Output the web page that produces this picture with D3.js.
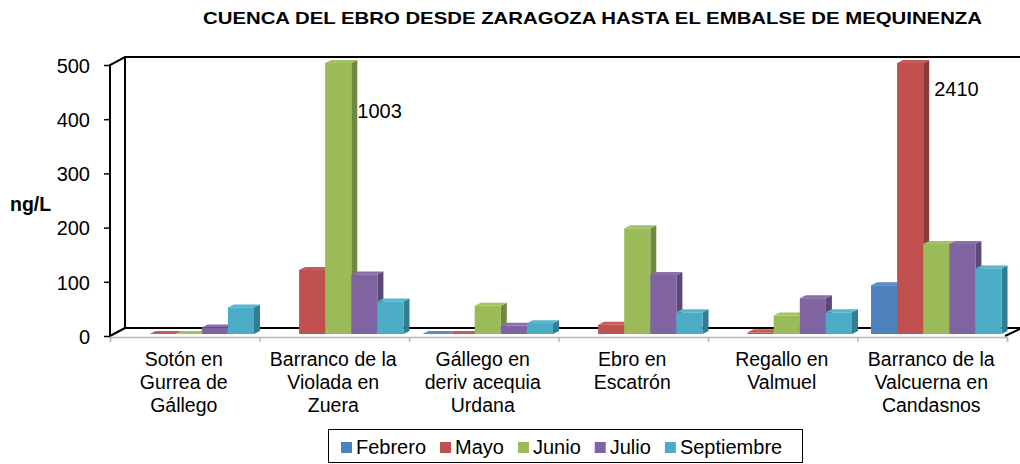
<!DOCTYPE html>
<html>
<head>
<meta charset="utf-8">
<script src="https://cdn.jsdelivr.net/npm/d3@7"></script>
<style>
  body { margin: 0; background: #fff; }
  text { font-family: "Liberation Sans", Arial, sans-serif; fill: #000; }
</style>
</head>
<body>
<div id="vis"></div>
<script>
// data
var categories = [
  ["Sotón en", "Gurrea de", "Gállego"],
  ["Barranco de la", "Violada en", "Zuera"],
  ["Gállego en", "deriv acequia", "Urdana"],
  ["Ebro en", "Escatrón"],
  ["Regallo en", "Valmuel"],
  ["Barranco de la", "Valcuerna en", "Candasnos"]
];
var seriesNames = ["Febrero", "Mayo", "Junio", "Julio", "Septiembre"];
var febrero    = [null, null, 0, null, null, 90];
var mayo       = [0, 118, 0, 17, 3, 2410];
var junio      = [0, 1003, 52, 195, 34, 166];
var julio      = [12, 110, 15, 109, 66, 166];
var septiembre = [49, 60, 20, 40, 40, 121];
var yTicks = [0, 100, 200, 300, 400, 500];
var yMax = 500;
var title = "CUENCA DEL EBRO DESDE ZARAGOZA HASTA EL EMBALSE DE MEQUINENZA";
var yTitle = "ng/L";

var values = [febrero, mayo, junio, julio, septiembre];
var colors = ["#4F81BD", "#C0504D", "#9BBB59", "#8064A2", "#4BACC6"];
var sideColors = ["#385E8B", "#8C3A38", "#6F8840", "#5C4877", "#327D91"];
var topColors = ["#5A8BC6", "#C85A57", "#A3C263", "#8A6FAB", "#57B5CD"];

// where the clipped-bar labels sit (x nudge, y below the 500 line)
var clipLabelOffsets = [[0, 53], [5, 31]];

var W = 1020, H = 464;
var svg = d3.select("#vis").append("svg")
  .attr("width", W).attr("height", H);

var x0 = d3.scaleBand().domain(d3.range(categories.length)).range([110, 1007]);
var x1 = d3.scaleBand().domain(seriesNames).range([9.5, x0.bandwidth() - 9.5]);
var y = d3.scaleLinear().domain([0, yMax]).range([336, 65]);

var wall = { dx: 15, dy: -8 };     // depth of the back wall
var plane = { dx: 4, dy: -2 };     // bars stand a bit behind the front
var depth = { dx: 6, dy: -3 };     // bar depth

// walls
var xl = x0.range()[0], xr = x0.range()[1];
var y0 = y(0), yt = y(yMax);
svg.append("polygon")
  .attr("points", [[xl, y0], [xl + wall.dx, y0 + wall.dy], [xr + wall.dx, y0 + wall.dy], [xr, y0]].join(" "))
  .attr("fill", "#fff");

var black = svg.append("g").attr("fill", "none").attr("stroke", "#000").attr("stroke-width", 2);
black.append("path")
  .attr("d", "M" + xl + "," + y0 + "V" + yt + "L" + (xl + wall.dx) + "," + (yt + wall.dy) +
    "H" + (W + 5));
black.append("path")
  .attr("d", "M" + (xl + wall.dx) + "," + (yt + wall.dy) + "V" + (y0 + wall.dy) + "H" + (xr + wall.dx));
black.append("path")
  .attr("d", "M" + xl + "," + y0 + "L" + (xl + wall.dx) + "," + (y0 + wall.dy));
black.append("path")
  .attr("d", "M" + (xr - 2) + "," + y0 + "L" + (xr + wall.dx) + "," + (y0 + wall.dy));

// category axis (front floor edge)
var xEdge = d3.scaleLinear().domain([0, categories.length]).range([xl, xr]);
var xAxis = svg.append("g")
  .attr("transform", "translate(0," + (y0 + 1) + ")")
  .call(d3.axisBottom(xEdge).ticks(categories.length).tickSize(5).tickSizeOuter(5).tickFormat(""));
xAxis.selectAll("path, line").attr("stroke", "#b8b8b8").attr("stroke-width", 1.5);

// value axis
var yAxis = svg.append("g")
  .attr("transform", "translate(" + xl + ",0)")
  .call(d3.axisLeft(y).tickValues(yTicks).tickSize(6).tickPadding(14));
yAxis.select(".domain").remove();
yAxis.selectAll("line").attr("stroke", "#000").attr("stroke-width", 1.5);
yAxis.selectAll("text")
  .attr("font-family", "Liberation Sans, Arial, sans-serif")
  .attr("font-size", 20).attr("dy", "0.36em");

// bars
var cells = [];
categories.forEach(function(c, i) {
  seriesNames.forEach(function(s, j) {
    if (values[j][i] !== null) cells.push({ cat: i, s: j, name: s, v: values[j][i] });
  });
});

var bars = svg.append("g").selectAll("g.bar")
  .data(cells).enter()
  .append("g").attr("class", "bar");

function geo(d) {
  var a = x0(d.cat) + x1(d.name) + plane.dx;
  var b = a + x1.bandwidth();
  var top = y(Math.min(d.v, yMax)) + plane.dy;
  var bot = y(0) + plane.dy;
  return { a: a, b: b, top: top, bot: bot };
}

bars.append("polygon")
  .attr("points", function(d) {
    var g = geo(d);
    return [[g.b, g.top], [g.b + depth.dx, g.top + depth.dy], [g.b + depth.dx, g.bot + depth.dy], [g.b, g.bot]].join(" ");
  })
  .attr("fill", function(d) { return sideColors[d.s]; });
bars.append("polygon")
  .attr("points", function(d) {
    var g = geo(d);
    return [[g.a, g.top], [g.a + depth.dx, g.top + depth.dy], [g.b + depth.dx, g.top + depth.dy], [g.b, g.top]].join(" ");
  })
  .attr("fill", function(d) { return topColors[d.s]; });
bars.append("rect")
  .attr("x", function(d) { return geo(d).a; })
  .attr("y", function(d) { return geo(d).top; })
  .attr("width", x1.bandwidth())
  .attr("height", function(d) { var g = geo(d); return g.bot - g.top; })
  .attr("fill", function(d) { return colors[d.s]; });

// labels for bars cut at the top of the scale
var clipped = cells.filter(function(d) { return d.v > yMax; });
svg.append("g").selectAll("text")
  .data(clipped).enter()
  .append("text")
  .attr("x", function(d, k) { return geo(d).b + depth.dx + clipLabelOffsets[k][0]; })
  .attr("y", function(d, k) { return y(yMax) + clipLabelOffsets[k][1]; })
  .attr("font-size", 20)
  .text(function(d) { return d.v; });

// category labels
var catLabels = svg.append("g").selectAll("text")
  .data(categories).enter()
  .append("text")
  .attr("text-anchor", "middle")
  .attr("font-size", 19.5)
  .attr("transform", function(d, i) { return "translate(" + (x0(i) + x0.bandwidth() / 2 - 1) + ",366)"; });
catLabels.selectAll("tspan")
  .data(function(d) { return d; }).enter()
  .append("tspan")
  .attr("x", 0)
  .attr("y", function(d, k) { return k * 23; })
  .text(function(d) { return d; });

// titles
svg.append("text")
  .attr("x", 203).attr("y", 24)
  .attr("font-size", 17).attr("font-weight", "bold")
  .attr("textLength", 779).attr("lengthAdjust", "spacingAndGlyphs")
  .text(title);
svg.append("text")
  .attr("x", 10).attr("y", 211)
  .attr("font-size", 19.5).attr("font-weight", "bold")
  .text(yTitle);

// legend
var legend = svg.append("g");
legend.append("rect")
  .attr("x", 328.5).attr("y", 429.5).attr("width", 474).attr("height", 33)
  .attr("fill", "#fff").attr("stroke", "#000").attr("stroke-width", 1);
var lx = 341;
seriesNames.forEach(function(s, j) {
  legend.append("rect")
    .attr("x", lx).attr("y", 442).attr("width", 11).attr("height", 11)
    .attr("fill", colors[j]);
  var t = legend.append("text")
    .attr("x", lx + 15).attr("y", 454)
    .attr("font-size", 20)
    .text(s);
  lx += 15 + t.node().getComputedTextLength() + 14;
});
</script>
</body>
</html>
